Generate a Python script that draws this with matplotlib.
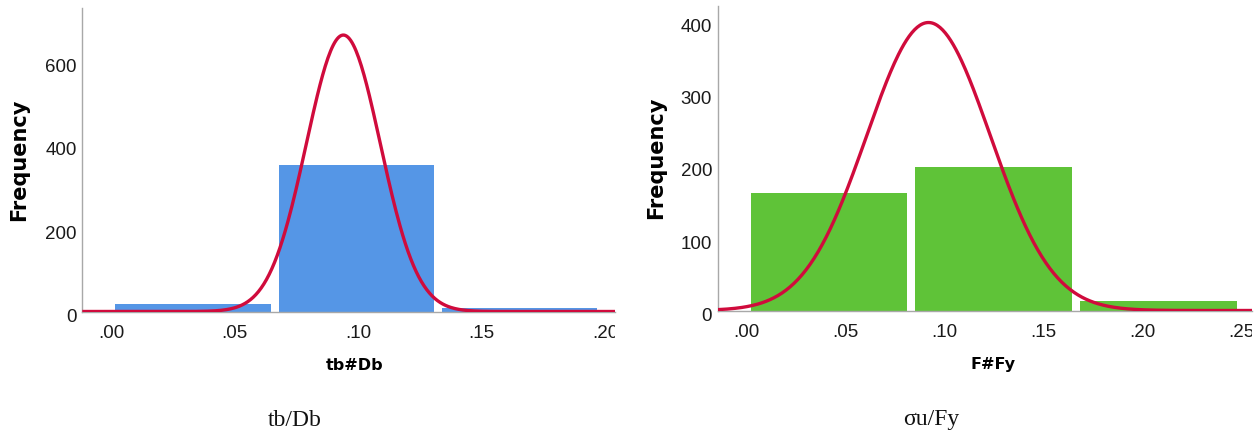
import matplotlib
matplotlib.use("Agg")
import matplotlib.pyplot as plt
import numpy as np
from matplotlib.transforms import Bbox, TransformedBbox, ScaledTranslation

# ---- data ----
tb_edges = [0.0, 0.0662, 0.1324, 0.1986]
tb_counts = [18, 351, 8]
tb_mean, tb_sd = 0.094, 0.0150
tb_ticks = [0.00, 0.05, 0.10, 0.15, 0.20]
tb_ticklabels = [".00", ".05", ".10", ".15", ".20"]
tb_yticks = [0, 200, 400, 600]

fy_edges = [0.0, 0.0833, 0.1667, 0.25]
fy_counts = [163, 199, 13]
fy_mean, fy_sd = 0.092, 0.0313
fy_ticks = [0.00, 0.05, 0.10, 0.15, 0.20, 0.25]
fy_ticklabels = [".00", ".05", ".10", ".15", ".20", ".25"]
fy_yticks = [0, 100, 200, 300, 400]

BLUE = "#5596E6"
GREEN = "#5FC338"
RED = "#D00B3C"
GRAY = "#A8A8A8"
W, H = 1260, 438

fig = plt.figure(figsize=(12.6, 4.38), dpi=100)


def hist_panel(rect, edges, counts, mean, sd, color, xlim, ylim,
               xticks, xticklabels, yticks, xlabel, lab_x, ylab_x):
    ax = fig.add_axes(rect)
    edges = np.asarray(edges)
    counts = np.asarray(counts)
    width = np.diff(edges)
    centers = edges[:-1] + width / 2
    ax.bar(centers, counts, width=width * 0.95, color=color, zorder=2)
    # fitted normal curve scaled to the histogram
    n = counts.sum()
    xs = np.linspace(xlim[0], xlim[1], 400)
    ys = n * width[0] / (sd * np.sqrt(2 * np.pi)) * np.exp(-0.5 * ((xs - mean) / sd) ** 2)
    ax.plot(xs, ys, color=RED, lw=2.4, zorder=3, solid_capstyle="butt")
    ax.set_xlim(xlim)
    ax.set_ylim(ylim)
    ax.set_xticks(xticks)
    ax.set_xticklabels(xticklabels)
    ax.set_yticks(yticks)
    for s in ["top", "right"]:
        ax.spines[s].set_visible(False)
    for s in ["left", "bottom"]:
        ax.spines[s].set_color(GRAY)
        ax.spines[s].set_linewidth(1.0)
    ax.spines["bottom"].set_zorder(2.5)
    ax.tick_params(axis="both", length=0, labelsize=13.5, labelcolor="#1a1a1a")
    ax.tick_params(axis="x", pad=10)
    ax.tick_params(axis="y", pad=4)
    shift = ScaledTranslation(0, -4 / 100, fig.dpi_scale_trans)
    for lbl in ax.get_yticklabels():
        lbl.set_fontfamily("Liberation Sans")
        lbl.set_transform(lbl.get_transform() + shift)
    for lbl in ax.get_xticklabels():
        lbl.set_fontfamily("Liberation Sans")
    ax.set_ylabel("Frequency", fontsize=15, fontweight="bold", family="DejaVu Sans")
    ax.yaxis.set_label_coords(ylab_x, 0.5)
    ax.set_xlabel(xlabel, fontsize=11.5, fontweight="bold", family="DejaVu Sans")
    ax.xaxis.set_label_coords(lab_x, -0.152)
    # last x label is cut at the right end of the axis
    clip = Bbox([[0, 0], [rect[0] + rect[2], 1]])
    for lbl in ax.get_xticklabels():
        lbl.set_clip_box(TransformedBbox(clip, fig.transFigure))
        lbl.set_clip_on(True)
    return ax


left_rect = [82.3 / W, 1 - 311.5 / H, (615 - 82.3) / W, (311.5 - 8.3) / H]
right_rect = [717.7 / W, 1 - 310.5 / H, (1252 - 717.7) / W, (310.5 - 6) / H]

hist_panel(left_rect, tb_edges, tb_counts, tb_mean, tb_sd, BLUE,
           (-0.0118, 0.2041), (0, 728), tb_ticks, tb_ticklabels, tb_yticks,
           "tb#Db", 0.512, -0.100)
hist_panel(right_rect, fy_edges, fy_counts, fy_mean, fy_sd, GREEN,
           (-0.0146, 0.2556), (0, 421), fy_ticks, fy_ticklabels, fy_yticks,
           "F#Fy", 0.515, -0.097)

fig.text(295 / W, 1 - 420 / H, "tb/Db", ha="center", va="center",
         fontsize=17, family="Liberation Serif", color="#111111")
fig.text(931.6 / W, 1 - 420 / H, "σu/Fy", ha="center", va="center",
         fontsize=17, family="Liberation Serif", color="#111111")

fig.savefig("out.png", dpi=100)
